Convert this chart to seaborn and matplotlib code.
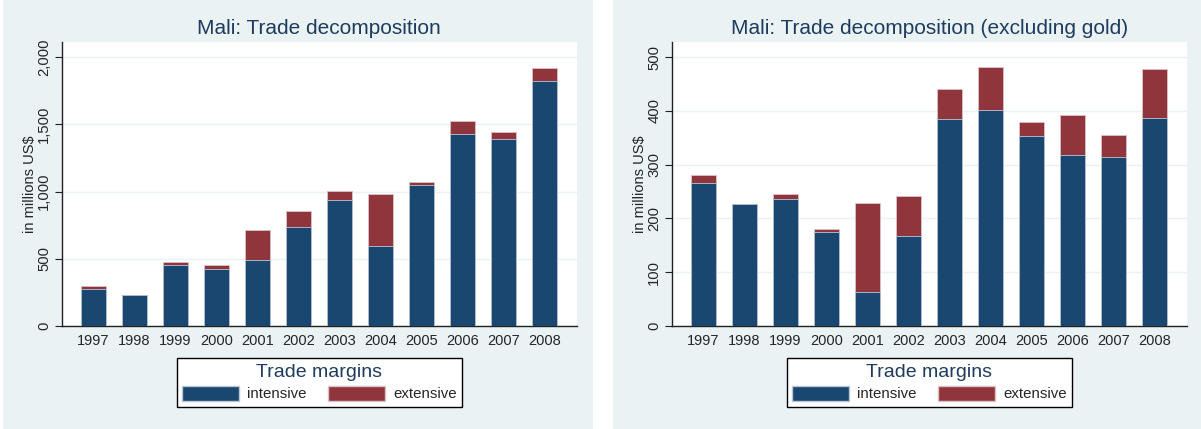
import pandas as pd
import matplotlib
matplotlib.use("Agg")
import matplotlib.pyplot as plt
from matplotlib.patches import Rectangle, Patch
from matplotlib.ticker import StrMethodFormatter
import seaborn as sns

years = ["1997", "1998", "1999", "2000", "2001", "2002",
         "2003", "2004", "2005", "2006", "2007", "2008"]

# all trade, in millions US$
total_all = [300, 233, 476, 453, 714, 855, 1006, 984, 1073, 1527, 1442, 1918]
intensive_all = [273, 233, 451, 426, 493, 736, 939, 597, 1046, 1427, 1393, 1824]

# excluding gold
total_xg = [281, 227, 245, 181, 229, 242, 440, 482, 380, 392, 356, 477]
intensive_xg = [265, 227, 237, 175, 64, 168, 384, 401, 354, 317, 315, 386]

titles = ["Mali: Trade decomposition", "Mali: Trade decomposition (excluding gold)"]
yticks_list = [[0, 500, 1000, 1500, 2000], [0, 100, 200, 300, 400, 500]]
ytops = [2112, 528]

NAVY = "#1a476f"
MAROON = "#90353b"
BG = "#eaf2f3"
TXT = "#1e3c5e"

sns.set_style("white")
plt.rcParams["font.family"] = ["Liberation Sans", "DejaVu Sans"]

fig = plt.figure(figsize=(12.01, 4.29), dpi=100)
W, H = 1201, 429

# panel backgrounds, behind everything
fig.patches.append(Rectangle((3 / W, 0), 590 / W, 1, transform=fig.transFigure,
                             facecolor=BG, edgecolor="none", zorder=-10))
fig.patches.append(Rectangle((613 / W, 0), 588 / W, 1, transform=fig.transFigure,
                             facecolor=BG, edgecolor="none", zorder=-10))

panels = [(years, total_all, intensive_all), (years, total_xg, intensive_xg)]
ax_lefts = [61.7, 671.7]
ax_w = 515.3

for i, (cats, tot, inten) in enumerate(panels):
    ax = fig.add_axes([ax_lefts[i] / W, 103 / H, ax_w / W, 284 / H])
    ax.set_zorder(1)
    ax.set_facecolor("white")
    df = pd.DataFrame({"year": cats, "total": tot, "intensive": inten})
    sns.barplot(data=df, x="year", y="total", color=MAROON, width=0.617,
                saturation=1, ax=ax, edgecolor="#d9c4c6", linewidth=0.6, zorder=2)
    sns.barplot(data=df, x="year", y="intensive", color=NAVY, width=0.617,
                saturation=1, ax=ax, edgecolor="#b8c6d6", linewidth=0.6, zorder=3)

    ax.set_xlim(-0.77, 11.79)
    ax.set_ylim(0, ytops[i])
    ax.set_yticks(yticks_list[i])
    ax.yaxis.set_major_formatter(StrMethodFormatter("{x:,.0f}"))
    ax.grid(axis="y", color=BG, linewidth=1.0, zorder=0)
    ax.set_axisbelow(True)
    for s in ["top", "right"]:
        ax.spines[s].set_visible(False)
    for s in ["left", "bottom"]:
        ax.spines[s].set_color("#222222")
        ax.spines[s].set_linewidth(1.0)
    ax.tick_params(axis="y", which="major", direction="out", length=5, width=0.8,
                   color="#222222", labelsize=10.7, left=True, pad=2.5)
    ax.tick_params(axis="x", length=0, labelsize=10.5, pad=6)
    for lab in ax.get_yticklabels():
        lab.set_rotation(90)
        lab.set_va("center")
    ax.set_xlabel("")
    ax.set_ylabel("in millions US$", fontsize=10.5, labelpad=0)
    ax.set_title(titles[i], fontsize=15, color=TXT, pad=6)

    handles = [Patch(facecolor=NAVY, edgecolor="#b8c6d6", label="intensive"),
               Patch(facecolor=MAROON, edgecolor="#d9c4c6", label="extensive")]
    leg = fig.legend(handles=handles, loc="center",
                     bbox_to_anchor=((ax_lefts[i] + ax_w / 2) / W, (H - 382.5) / H),
                     ncol=2, title="Trade margins", fontsize=10.8,
                     title_fontsize=14, frameon=True, fancybox=False,
                     framealpha=1, handlelength=3.8, handleheight=1.15,
                     columnspacing=1.4, handletextpad=0.55, borderpad=0.35,
                     labelspacing=0.35, borderaxespad=0)
    leg.get_title().set_color(TXT)
    leg.get_frame().set_edgecolor("black")
    leg.get_frame().set_linewidth(1.0)
    leg.get_frame().set_facecolor("white")

fig.savefig("out.png", dpi=100, facecolor="white")
